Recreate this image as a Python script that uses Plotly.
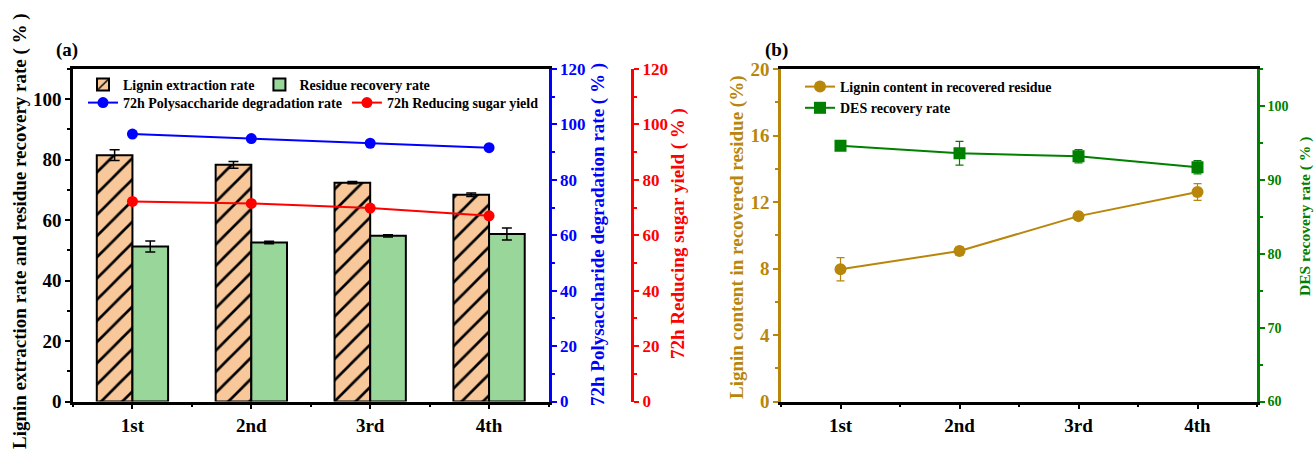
import plotly.graph_objects as go

W, H = 1316, 455

# ---------------- data ----------------
categories = ["1st", "2nd", "3rd", "4th"]

lignin_extraction = [81.5, 78.3, 72.4, 68.4]
lignin_extraction_err = [1.8, 1.1, 0.4, 0.6]
residue_recovery = [51.3, 52.6, 54.8, 55.4]
residue_recovery_err = [1.8, 0.4, 0.4, 2.0]
polysaccharide_degradation = [96.5, 94.9, 93.2, 91.6]
polysaccharide_err = [0.4, 0.4, 0.9, 0.4]
reducing_sugar = [72.2, 71.5, 69.8, 67.0]
reducing_sugar_err = [0.4, 0.4, 0.4, 0.4]

lignin_content = [7.95, 9.05, 11.15, 12.6]
lignin_content_err = [0.7, 0.25, 0.1, 0.5]
des_recovery = [94.6, 93.6, 93.2, 91.7]
des_recovery_err = [0.3, 1.6, 0.9, 0.9]

# ---------------- styles ----------------
FONT = "Liberation Serif"
PEACH = "#F8C89B"
LGREEN = "#98D69A"
BLUE = "#0000FF"
RED = "#FF0000"
BROWN = "#B8860B"
DGREEN = "#008000"

xpos = list(range(len(categories)))


def px(x):
    return x / W


def py(y):
    return 1 - y / H


ydom = [py(401.5), py(69)]

fig = go.Figure()

# ---- panel (a) bars ----
fig.add_trace(go.Bar(
    x=xpos, y=lignin_extraction, name="Lignin extraction rate",
    width=0.3, offset=-0.3,
    marker=dict(color=PEACH, line=dict(color="black", width=2),
                pattern=dict(shape="/", fgcolor="black", fgopacity=1, bgcolor=PEACH,
                             size=15, solidity=0.18)),
    error_y=dict(type="data", array=lignin_extraction_err, color="black", thickness=1.5, width=5),
    xaxis="x", yaxis="y", legend="legend",
))
fig.add_trace(go.Bar(
    x=xpos, y=residue_recovery, name="Residue recovery rate",
    width=0.3, offset=0.0,
    marker=dict(color=LGREEN, line=dict(color="black", width=2)),
    error_y=dict(type="data", array=residue_recovery_err, color="black", thickness=1.5, width=5),
    xaxis="x", yaxis="y", legend="legend",
))
# ---- panel (a) lines ----
fig.add_trace(go.Scatter(
    x=xpos, y=polysaccharide_degradation, name="72h Polysaccharide degradation rate",
    mode="lines+markers", line=dict(color=BLUE, width=2),
    marker=dict(color=BLUE, size=11, symbol="circle"),
    error_y=dict(type="data", array=polysaccharide_err, color=BLUE, thickness=1.5, width=4),
    xaxis="x", yaxis="y2", legend="legend2",
))
fig.add_trace(go.Scatter(
    x=xpos, y=reducing_sugar, name="72h Reducing sugar yield",
    mode="lines+markers", line=dict(color=RED, width=2),
    marker=dict(color=RED, size=11, symbol="circle"),
    error_y=dict(type="data", array=reducing_sugar_err, color=RED, thickness=1.5, width=4),
    xaxis="x", yaxis="y3", legend="legend2",
))

# ---- panel (b) ----
fig.add_trace(go.Scatter(
    x=xpos, y=lignin_content, name="Lignin content in recovered residue",
    mode="lines+markers", line=dict(color=BROWN, width=2),
    marker=dict(color=BROWN, size=12, symbol="circle"),
    error_y=dict(type="data", array=lignin_content_err, color=BROWN, thickness=1.2, width=4),
    xaxis="x2", yaxis="y4", legend="legend3",
))
fig.add_trace(go.Scatter(
    x=xpos, y=des_recovery, name="DES recovery rate",
    mode="lines+markers", line=dict(color=DGREEN, width=2),
    marker=dict(color=DGREEN, size=12, symbol="square"),
    error_y=dict(type="data", array=des_recovery_err, color=DGREEN, thickness=1.2, width=4),
    xaxis="x2", yaxis="y5", legend="legend3",
))

tickf = dict(family=FONT, size=19, color="black", weight="bold")
alias = {str(p): c for p, c in zip(xpos, categories)}


def xax(dom):
    return dict(
        domain=dom, range=[-0.5, 3.5], tickmode="linear", tick0=0, dtick=1, labelalias=alias,
        showline=True, linecolor="black", linewidth=2.5, mirror=True,
        ticks="outside", ticklen=5, tickwidth=2, tickcolor="black",
        minor=dict(tick0=0, dtick=0.5, ticks="outside", ticklen=3, tickwidth=2,
                   tickcolor="black", showgrid=False),
        showgrid=False, zeroline=False, tickfont=tickf, automargin=False, fixedrange=True,
    )


def yax(color, rng, dtick, minor, size=19, lw=2.5, **kw):
    d = dict(
        range=rng, dtick=dtick, tick0=rng[0], showline=True, linecolor=color, linewidth=lw,
        ticks="outside", ticklen=5, tickwidth=2, tickcolor=color,
        minor=dict(dtick=minor, ticks="outside", ticklen=3, tickwidth=2, tickcolor=color, showgrid=False),
        showgrid=False, zeroline=False, automargin=False,
        tickfont=dict(family=FONT, size=size, color=color, weight="bold"),
    )
    d.update(kw)
    return d


xa_dom = [px(73), px(548.5)]
xb_dom = [px(781), px(1257)]

legfont = dict(family=FONT, size=14, color="black", weight="bold")

fig.update_layout(
    width=W, height=H, margin=dict(l=0, r=0, t=0, b=0),
    paper_bgcolor="white", plot_bgcolor="white",
    font=dict(family=FONT, weight="bold"),
    showlegend=True, barmode="overlay",
    xaxis=xax(xa_dom),
    yaxis=yax("black", [0, 110], 20, 10, anchor="x", domain=ydom),
    yaxis2=yax(BLUE, [0, 120], 20, 10, size=17, lw=3, anchor="x", overlaying="y", side="right"),
    yaxis3=yax(RED, [0, 120], 20, 10, size=17, lw=3, anchor="free", overlaying="y", side="right",
               position=px(632)),
    xaxis2=xax(xb_dom) | dict(anchor="y4"),
    yaxis4=yax(BROWN, [0, 20], 4, 2, lw=2.5, anchor="x2", domain=ydom),
    yaxis5=yax(DGREEN, [60, 105], 10, 5, size=14, lw=2.5, anchor="x2", overlaying="y4", side="right"),
    legend=dict(orientation="h", x=px(83), y=py(85), xanchor="left", yanchor="middle",
                font=legfont, bgcolor="rgba(0,0,0,0)", borderwidth=0),
    legend2=dict(orientation="h", x=px(83), y=py(103), xanchor="left", yanchor="middle",
                 font=legfont, bgcolor="rgba(0,0,0,0)", borderwidth=0),
    legend3=dict(orientation="v", x=px(800), y=py(71), xanchor="left", yanchor="top",
                 font=legfont, bgcolor="rgba(0,0,0,0)", borderwidth=0, tracegroupgap=0),
)

# ---- axis titles and panel labels (annotations) ----
def vtitle(text, x, y, color, size):
    fig.add_annotation(text=text, x=px(x), y=py(y), xref="paper", yref="paper",
                       xanchor="center", yanchor="middle", textangle=-90, showarrow=False,
                       font=dict(family=FONT, size=size, color=color, weight="bold"))


vtitle("Lignin extraction rate and residue recovery rate ( % )", 20, 231, "black", 19)
vtitle("72h Polysaccharide degradation rate ( % )", 598, 235, BLUE, 19)
vtitle("72h Reducing sugar yield ( % )", 678, 234, RED, 19)
vtitle("Lignin content in recovered residue (%)", 737, 237, BROWN, 19)
vtitle("DES recovery rate ( % )", 1305, 217, DGREEN, 15.5)

for lab, x in [("(a)", 67), ("(b)", 776)]:
    fig.add_annotation(text=lab, x=px(x), y=py(50), xref="paper", yref="paper",
                       xanchor="center", yanchor="middle", showarrow=False,
                       font=dict(family=FONT, size=19, color="black", weight="bold"))

fig.write_html("out.html")
